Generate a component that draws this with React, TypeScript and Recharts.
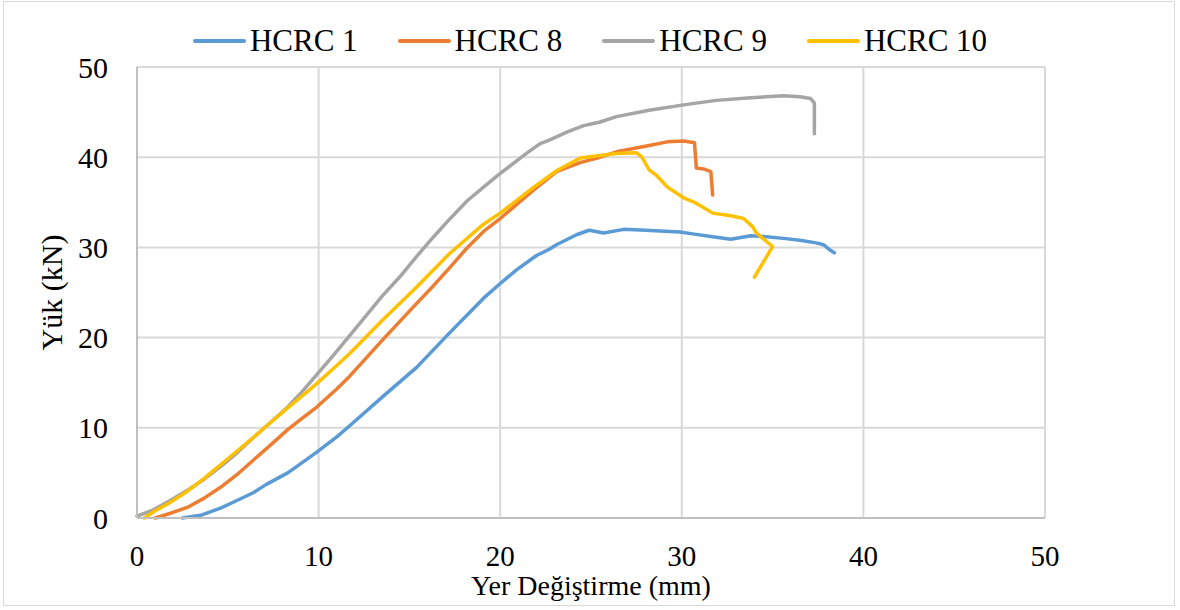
import React from 'react';
import { LineChart, Line, XAxis, YAxis, CartesianGrid, Legend } from 'recharts';

const seriesNames = ['HCRC 1', 'HCRC 8', 'HCRC 9', 'HCRC 10'];
const seriesColors = ['#5B9BD5', '#ED7D31', '#A5A5A5', '#FFC000'];
const axisTicks = [0, 10, 20, 30, 40, 50];

const hcrc1X = [2.5, 3.5, 4.6, 5.3, 6.4, 7.1, 8.3, 9.0, 9.9, 11.0, 11.7, 13.5, 15.4, 17.2, 19.1, 20.0, 20.9, 22.0, 22.7, 23.1, 24.2, 24.9, 25.7, 26.8, 28.0, 29.9, 30.6, 31.6, 32.7, 33.8, 34.5, 35.6, 36.5, 37.4, 37.8, 38.1, 38.4];
const hcrc1Y = [0, 0.3, 1.1, 1.75, 2.8, 3.7, 5.0, 6.0, 7.3, 9.0, 10.2, 13.4, 16.7, 20.5, 24.4, 26.0, 27.5, 29.1, 29.8, 30.3, 31.4, 31.9, 31.6, 32.0, 31.9, 31.7, 31.5, 31.2, 30.9, 31.3, 31.2, 31.0, 30.8, 30.5, 30.3, 29.8, 29.4];

const hcrc8X = [1.0, 1.8, 2.8, 3.7, 4.6, 5.5, 6.4, 7.3, 8.3, 9.0, 9.9, 11.0, 11.7, 13.5, 15.4, 16.3, 17.2, 18.2, 19.1, 20.0, 21.8, 23.1, 24.4, 25.5, 26.4, 28.2, 29.2, 30.1, 30.7, 30.8, 31.2, 31.6, 31.7];
const hcrc8Y = [0, 0.5, 1.2, 2.2, 3.4, 4.8, 6.4, 8.0, 9.8, 10.9, 12.3, 14.3, 15.7, 19.7, 23.8, 25.7, 27.7, 30.0, 31.8, 33.2, 36.3, 38.4, 39.4, 40.0, 40.6, 41.3, 41.7, 41.8, 41.6, 38.8, 38.7, 38.4, 35.8];

const hcrc9X = [0, 0.9, 1.8, 2.8, 3.7, 4.6, 5.5, 6.4, 7.3, 8.3, 9.0, 9.9, 10.8, 11.7, 13.5, 14.5, 15.4, 16.3, 17.2, 18.2, 19.1, 20.0, 21.5, 22.2, 22.7, 23.7, 24.6, 25.5, 26.4, 28.2, 30.1, 31.9, 33.8, 35.6, 36.5, 37.1, 37.3, 37.3, 37.3];
const hcrc9Y = [0.2, 0.9, 1.9, 3.1, 4.3, 5.7, 7.2, 8.9, 10.5, 12.3, 13.8, 15.9, 18.0, 20.2, 24.6, 26.8, 29.0, 31.1, 33.1, 35.2, 36.7, 38.2, 40.5, 41.5, 41.9, 42.8, 43.5, 43.9, 44.5, 45.2, 45.8, 46.3, 46.6, 46.8, 46.7, 46.5, 46.0, 44.0, 42.6];

const hcrc10X = [0.4, 1.0, 1.8, 2.8, 3.7, 4.6, 5.5, 6.4, 7.3, 8.3, 9.2, 9.9, 11.0, 11.7, 13.5, 15.4, 17.2, 19.1, 20.0, 21.8, 23.1, 24.4, 25.5, 26.4, 27.5, 27.8, 28.2, 28.6, 29.2, 30.1, 30.8, 31.7, 32.7, 33.4, 33.9, 34.1, 35.0, 34.0];
const hcrc10Y = [0, 0.8, 1.7, 3.0, 4.4, 5.9, 7.4, 8.9, 10.5, 12.2, 13.7, 14.9, 16.9, 18.2, 21.9, 25.6, 29.3, 32.6, 33.8, 36.6, 38.5, 39.9, 40.2, 40.4, 40.5, 40.0, 38.6, 38.0, 36.7, 35.5, 34.9, 33.8, 33.5, 33.2, 32.3, 31.6, 30.1, 26.7];

const zip = (xs: number[], ys: number[]) => xs.map((x, i) => ({ x, y: ys[i] }));
const seriesData = [zip(hcrc1X, hcrc1Y), zip(hcrc8X, hcrc8Y), zip(hcrc9X, hcrc9Y), zip(hcrc10X, hcrc10Y)];

const FONT = "'Liberation Serif', 'Times New Roman', serif";

const LegendContent = (props: any) => {
  const payload = [...(props.payload || [])].sort(
    (a: any, b: any) => seriesNames.indexOf(a.value) - seriesNames.indexOf(b.value)
  );
  return (
    <div style={{ display: 'flex', justifyContent: 'center', alignItems: 'center', gap: 40, fontFamily: FONT, fontSize: 31, color: '#000', lineHeight: '36px' }}>
      {payload.map((p: any) => (
        <div key={p.value} style={{ display: 'flex', alignItems: 'center' }}>
          <span style={{ display: 'inline-block', width: 53, height: 4, background: p.color, borderRadius: 2 }} />
          <span style={{ marginLeft: 4 }}>{p.value}</span>
        </div>
      ))}
    </div>
  );
};

export default function App() {
  return (
    <div style={{ position: 'absolute', left: 0, top: 0, width: 1180, height: 610, background: '#fff' }}>
      <div style={{ position: 'absolute', left: 3, top: 1, width: 1172, height: 605, border: '1.5px solid #d9d9d9', boxSizing: 'border-box' }} />
      <div style={{ position: 'absolute', left: 0, top: 0 }}>
        <LineChart width={1180} height={610} margin={{ top: 67, right: 135, left: 0, bottom: 0 }}>
          <CartesianGrid stroke="#d9d9d9" strokeWidth={2} />
          <XAxis
            type="number"
            dataKey="x"
            domain={[0, 50]}
            ticks={axisTicks}
            height={92}
            tickLine={false}
            tickSize={0}
            tickMargin={27}
            axisLine={{ stroke: '#bfbfbf', strokeWidth: 2 }}
            tick={{ fill: '#000', fontSize: 29, fontFamily: FONT }}
            label={{ value: 'Yer Değiştirme (mm)', position: 'center', dy: 21, style: { fill: '#000', fontSize: 28, fontFamily: FONT } }}
          />
          <YAxis
            type="number"
            dataKey="y"
            domain={[0, 50]}
            ticks={axisTicks}
            width={137}
            tickLine={false}
            tickSize={0}
            tickMargin={29}
            axisLine={{ stroke: '#bfbfbf', strokeWidth: 2 }}
            tick={{ fill: '#000', fontSize: 30, fontFamily: FONT }}
            label={{ value: 'Yük (kN)', angle: -90, position: 'center', dx: -17, style: { fill: '#000', fontSize: 30, fontFamily: FONT } }}
          />
          <Legend
            layout="horizontal"
            verticalAlign="middle"
            align="center"
            content={<LegendContent />}
            wrapperStyle={{ top: 23, left: 0, width: 1180 }}
          />
          {seriesNames.map((name, i) => (
            <Line
              key={name}
              name={name}
              data={seriesData[i]}
              dataKey="y"
              type="linear"
              stroke={seriesColors[i]}
              strokeWidth={3.5}
              strokeLinejoin="round"
              strokeLinecap="round"
              dot={false}
              activeDot={false}
              isAnimationActive={false}
            />
          ))}
        </LineChart>
      </div>
    </div>
  );
}
